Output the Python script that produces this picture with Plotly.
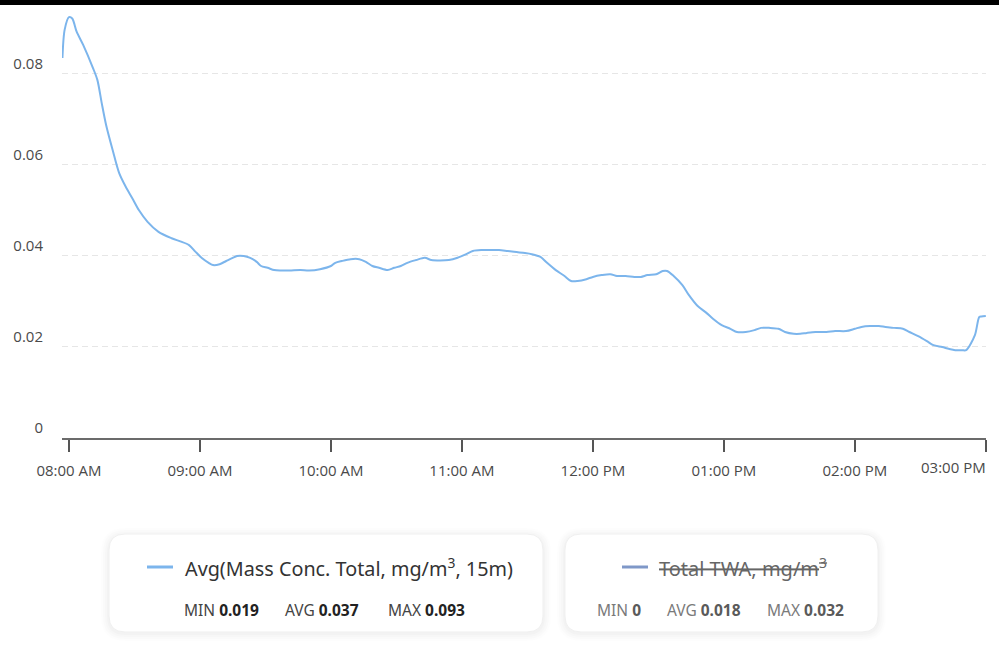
import plotly.graph_objects as go

# ---------------- data ----------------
DAY = "2024-01-01 "
times = [
    "07:57", "07:58", "08:00", "08:01:30", "08:03:30", "08:06:30", "08:11", "08:13", "08:15", "08:17",
    "08:20", "08:23", "08:26", "08:29", "08:32", "08:36", "08:41", "08:47", "08:51", "08:55",
    "08:58", "09:01", "09:04", "09:06", "09:09", "09:12",
    "09:15", "09:17", "09:20", "09:23", "09:26", "09:28", "09:31", "09:34", "09:37", "09:41",
    "09:46", "09:50", "09:55", "10:00", "10:02", "10:05", "10:09", "10:13", "10:16", "10:19",
    "10:22", "10:26", "10:29", "10:32", "10:35", "10:39", "10:43", "10:46", "10:50", "10:54",
    "10:58", "11:02", "11:05", "11:09", "11:13", "11:17", "11:21", "11:25", "11:28", "11:32",
    "11:36", "11:39", "11:43", "11:47", "11:50", "11:53", "11:57", "12:00", "12:04", "12:08",
    "12:11", "12:15", "12:19", "12:22", "12:25", "12:29", "12:32", "12:34", "12:37", "12:41",
    "12:44", "12:48", "12:52", "12:55", "12:59", "13:03", "13:06", "13:10", "13:14", "13:17",
    "13:21", "13:25", "13:28", "13:32", "13:35", "13:38", "13:42", "13:47", "13:51", "13:56",
    "14:00", "14:03", "14:07", "14:11", "14:14", "14:18", "14:22", "14:25", "14:29", "14:33",
    "14:36", "14:40", "14:43", "14:46", "14:49", "14:51", "14:55", "14:57", "14:58", "15:00",
]
mass_conc = [
    0.0835, 0.0897, 0.0925, 0.0922, 0.0893, 0.0864, 0.0813, 0.0787, 0.0736, 0.0688,
    0.0633, 0.0582, 0.0552, 0.0527, 0.0501, 0.0475, 0.0453, 0.0439, 0.0432, 0.0424,
    0.0409, 0.0395, 0.0385, 0.0380, 0.0382, 0.0389,
    0.0396, 0.0400, 0.0400, 0.0396, 0.0387, 0.0378, 0.0374, 0.0369, 0.0368, 0.0368,
    0.0369, 0.0368, 0.0371, 0.0378, 0.0385, 0.0389, 0.0393, 0.0393, 0.0387, 0.0378,
    0.0374, 0.0369, 0.0374, 0.0378, 0.0385, 0.0391, 0.0396, 0.0391, 0.0390, 0.0391,
    0.0396, 0.0404, 0.0411, 0.0413, 0.0413, 0.0413, 0.0411, 0.0409, 0.0407, 0.0404,
    0.0398, 0.0385, 0.0369, 0.0356, 0.0345, 0.0345, 0.0349, 0.0354, 0.0358, 0.0360,
    0.0356, 0.0356, 0.0354, 0.0354, 0.0358, 0.0360, 0.0367, 0.0367, 0.0356, 0.0336,
    0.0314, 0.0290, 0.0275, 0.0262, 0.0248, 0.0240, 0.0233, 0.0233, 0.0237, 0.0242,
    0.0242, 0.0240, 0.0233, 0.0229, 0.0229, 0.0231, 0.0233, 0.0233, 0.0235, 0.0235,
    0.0240, 0.0244, 0.0246, 0.0246, 0.0244, 0.0242, 0.0240, 0.0233, 0.0224, 0.0213,
    0.0204, 0.0200, 0.0196, 0.0193, 0.0193, 0.0193, 0.0226, 0.0266, 0.0267, 0.0268,
]
tick_times = ["08:00", "09:00", "10:00", "11:00", "12:00", "13:00", "14:00", "15:00"]
tick_labels = ["08:00 AM", "09:00 AM", "10:00 AM", "11:00 AM", "12:00 PM", "01:00 PM", "02:00 PM", "03:00 PM"]
y_ticks = [0, 0.02, 0.04, 0.06, 0.08]
y_tick_labels = ["0", "0.02", "0.04", "0.06", "0.08"]

series1_name = "Avg(Mass Conc. Total, mg/m<sup>3</sup>, 15m)"
series1_stats = [("MIN", "0.019"), ("AVG", "0.037"), ("MAX", "0.093")]
series2_name = "Total TWA, mg/m<sup>3</sup>"
series2_stats = [("MIN", "0"), ("AVG", "0.018"), ("MAX", "0.032")]

LINE1 = "#7cb5ec"
LINE2 = "#7f98c8"

# ---------------- layout geometry (pixels) ----------------
W, H = 999, 656
L, R, T, B = 62, 986, 8, 438


def px(x):
    return (x - L) / (R - L)


def py(y):
    return (B - y) / (B - T)


def rrect(x0, y0, x1, y1, r):
    pts = [
        ("M", [(x0 + r, y0)]), ("L", [(x1 - r, y0)]), ("Q", [(x1, y0), (x1, y0 + r)]),
        ("L", [(x1, y1 - r)]), ("Q", [(x1, y1), (x1 - r, y1)]), ("L", [(x0 + r, y1)]),
        ("Q", [(x0, y1), (x0, y1 - r)]), ("L", [(x0, y0 + r)]), ("Q", [(x0, y0), (x0 + r, y0)]),
    ]
    s = ""
    for cmd, ps in pts:
        s += cmd + " " + " ".join(f"{px(a):.5f},{py(b):.5f}" for a, b in ps) + " "
    return s + "Z"


fig = go.Figure()
fig.add_trace(go.Scatter(
    x=[DAY + t for t in times], y=mass_conc, mode="lines",
    line=dict(color=LINE1, width=2, shape="spline", smoothing=0.8),
    showlegend=False, hoverinfo="skip",
))

TICKFONT = dict(family="Open Sans, sans-serif", size=15, color="#4a4a4a")

# all x tick labels except the last, which sits right-aligned at the edge
shown_labels = tick_labels[:-1] + [""]

fig.update_layout(
    width=W, height=H,
    margin=dict(l=L, r=W - R, t=T, b=H - B, pad=0),
    paper_bgcolor="white", plot_bgcolor="white",
    showlegend=False,
    xaxis=dict(
        type="date",
        range=[DAY + "07:56:48", DAY + "15:00:05"],
        tickvals=[DAY + t for t in tick_times],
        ticktext=shown_labels,
        showgrid=False, zeroline=False,
        showline=True, linecolor="#6b6b6b", linewidth=1.5,
        ticks="outside", ticklen=12, tickwidth=1.5, tickcolor="#555555",
        tickfont=TICKFONT, ticklabelstandoff=6,
    ),
    yaxis=dict(
        range=[0, 0.0945],
        tickvals=y_ticks, ticktext=y_tick_labels,
        showgrid=True, gridcolor="#e6e6e6", gridwidth=1, griddash="6px,4px",
        zeroline=False, showline=False, ticks="",
        tickfont=TICKFONT, ticklabelposition="outside top", ticklabelstandoff=18,
    ),
)

shapes = []
# top black bar
shapes.append(dict(type="rect", xref="paper", yref="paper",
                   x0=px(0), x1=px(W), y0=py(5), y1=py(0),
                   fillcolor="black", line=dict(width=0), layer="above"))

boxes = [(109, 534, 543, 632), (565, 534, 878, 632)]
for (x0, y0, x1, y1) in boxes:
    for g, a in [(8, 0.008), (6, 0.010), (4, 0.012), (2, 0.015)]:
        shapes.append(dict(type="path", xref="paper", yref="paper",
                           path=rrect(x0 - g, y0 - g + 2, x1 + g, y1 + g + 1, 16 + g),
                           fillcolor=f"rgba(0,0,0,{a})", line=dict(width=0)))
    shapes.append(dict(type="path", xref="paper", yref="paper",
                       path=rrect(x0, y0, x1, y1, 16),
                       fillcolor="white", line=dict(color="#f0f0f0", width=1)))

# legend line samples
shapes.append(dict(type="line", xref="paper", yref="paper",
                   x0=px(147), x1=px(173), y0=py(567), y1=py(567),
                   line=dict(color=LINE1, width=3)))
shapes.append(dict(type="line", xref="paper", yref="paper",
                   x0=px(622), x1=px(648), y0=py(567), y1=py(567),
                   line=dict(color=LINE2, width=3)))
fig.update_layout(shapes=shapes)

LEGFONT = "Noto Sans, sans-serif"
ann = []
# last x tick label, right-aligned to its tick at the edge of the axis
ann.append(dict(text=tick_labels[-1], x=DAY + tick_times[-1], y=py(467), xref="x", yref="paper",
                xanchor="right", yanchor="middle", showarrow=False, xshift=2,
                font=TICKFONT))
ann.append(dict(text=series1_name, x=px(183), y=py(567), xref="paper", yref="paper",
                xanchor="left", yanchor="middle", showarrow=False,
                font=dict(family=LEGFONT, size=19.8, color="#333333")))
ann.append(dict(text=f"<s>{series2_name}</s>", x=px(657), y=py(567), xref="paper", yref="paper",
                xanchor="left", yanchor="middle", showarrow=False,
                font=dict(family=LEGFONT, size=20, color="#666666")))

stat_x1 = [182, 283, 386]
for (lab, val), x in zip(series1_stats, stat_x1):
    ann.append(dict(text=f"<span style='color:#444'>{lab}</span> <b>{val}</b>",
                    x=px(x), y=py(610), xref="paper", yref="paper",
                    xanchor="left", yanchor="middle", showarrow=False,
                    font=dict(family=LEGFONT, size=15.5, color="#222222")))
stat_x2 = [595, 665, 765]
for (lab, val), x in zip(series2_stats, stat_x2):
    ann.append(dict(text=f"<span style='color:#7a7a7a'>{lab}</span> <b>{val}</b>",
                    x=px(x), y=py(610), xref="paper", yref="paper",
                    xanchor="left", yanchor="middle", showarrow=False,
                    font=dict(family=LEGFONT, size=15.5, color="#5a5a5a")))
fig.update_layout(annotations=ann)

fig.write_html("out.html", config={"displayModeBar": False},
               post_script="document.body.style.margin='0';")
